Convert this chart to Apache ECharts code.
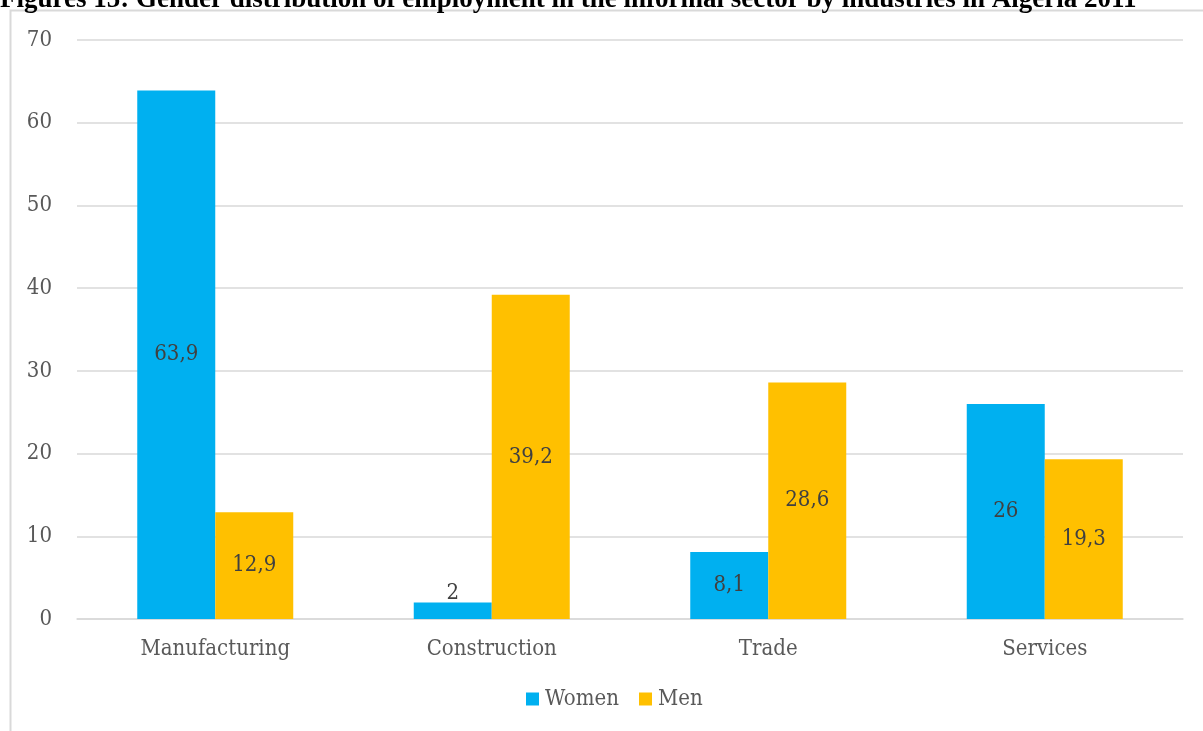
<!DOCTYPE html>
<html>
<head>
<meta charset="utf-8">
<script src="https://cdn.jsdelivr.net/npm/echarts@6/dist/echarts.min.js"></script>
<style>
  html, body { margin: 0; padding: 0; background: #fff; }
  #chart { width: 1203px; height: 731px; }
</style>
</head>
<body>
<div id="chart"></div>
<script>
// Informal-sector employment by industry, split by gender (Algeria, 2011)
const industries = ['Manufacturing', 'Construction', 'Trade', 'Services'];
const women = [63.9, 2, 8.1, 26];
const men = [12.9, 39.2, 28.6, 19.3];
const yTicks = { min: 0, max: 70, interval: 10 };

const serif = '"DejaVu Serif Condensed", "DejaVu Serif", serif';

function fmt(v) { return String(v).replace('.', ','); }

function labelled(values) {
  return values.map(v => {
    const item = { value: v };
    if (v < 5) {
      item.label = { position: 'top', distance: -2 };
    }
    return item;
  });
}

const chart = echarts.init(document.getElementById('chart'));
chart.setOption({
  animation: false,
  title: {
    text: 'Figures 15: Gender distribution of employment in the informal sector by industries in Algeria 2011',
    left: 0,
    top: -13,
    padding: 0,
    textStyle: {
      fontFamily: '"Liberation Serif", "Times New Roman", serif',
      fontWeight: 'bold',
      fontSize: 27,
      color: '#000'
    }
  },
  graphic: [{
    type: 'rect',
    z: -1,
    shape: { x: 10.5, y: 10.5, width: 1400, height: 900 },
    style: { fill: 'none', stroke: '#d9d9d9', lineWidth: 2 }
  }],
  grid: { left: 77, right: 20, top: 40, bottom: 112 },
  legend: {
    bottom: 16,
    left: 521,
    itemWidth: 13,
    itemHeight: 13,
    itemGap: 20,
    icon: 'rect',
    textStyle: { fontFamily: serif, fontSize: 22, color: '#595959', padding: [0, 0, 0, 1] },
    data: ['Women', 'Men']
  },
  xAxis: {
    type: 'category',
    data: industries,
    axisLine: { lineStyle: { color: '#d9d9d9', width: 1.5 } },
    axisTick: { show: false },
    axisLabel: { fontFamily: serif, fontSize: 22, color: '#595959', margin: 19 }
  },
  yAxis: {
    type: 'value',
    min: yTicks.min,
    max: yTicks.max,
    interval: yTicks.interval,
    axisLine: { show: false },
    axisTick: { show: false },
    splitLine: { lineStyle: { color: '#d9d9d9', width: 1.5 } },
    axisLabel: { fontFamily: serif, fontSize: 22, color: '#595959', margin: 25 }
  },
  series: [
    {
      name: 'Women',
      type: 'bar',
      data: labelled(women),
      barWidth: 78,
      barGap: '0%',
      itemStyle: { color: '#00b0f0' },
      label: {
        show: true,
        position: 'inside',
        fontFamily: serif,
        fontSize: 22,
        color: '#404040',
        formatter: p => fmt(p.value)
      }
    },
    {
      name: 'Men',
      type: 'bar',
      data: labelled(men),
      barWidth: 78,
      barGap: '0%',
      itemStyle: { color: '#ffc000' },
      label: {
        show: true,
        position: 'inside',
        fontFamily: serif,
        fontSize: 22,
        color: '#404040',
        formatter: p => fmt(p.value)
      }
    }
  ]
});
</script>
</body>
</html>
